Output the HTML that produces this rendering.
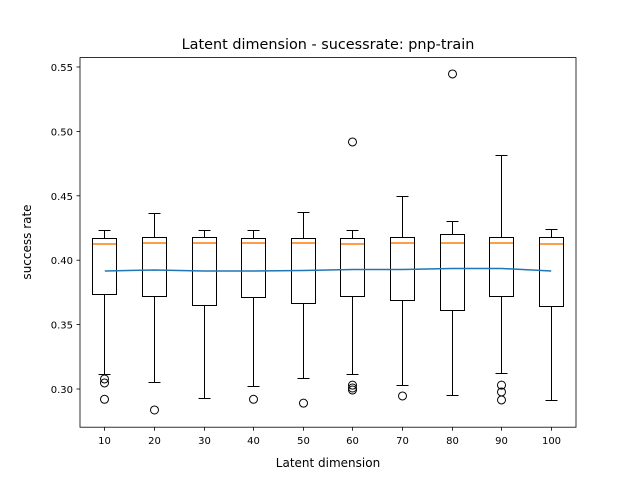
<!DOCTYPE html>
<html><head><meta charset="utf-8"><style>body{margin:0;background:#fff}svg{display:block;font-family:"DejaVu Sans","Liberation Sans",sans-serif}</style></head>
<body>
<svg id="chart" width="640" height="480" xmlns="http://www.w3.org/2000/svg">
<rect width="640" height="480" fill="#fff"/>
<text x="328" y="49" text-anchor="middle" font-size="14.4">Latent dimension - sucessrate: pnp-train</text>
<text x="328" y="467" text-anchor="middle" font-size="12">Latent dimension</text>
<text transform="translate(31,242) rotate(-90)" text-anchor="middle" font-size="12">success rate</text>
<g id="plot"></g>
<rect x="80" y="57.6" width="496" height="369.6" fill="none" stroke="#000" stroke-width="0.8"/>
</svg>
<script>
const categories=[10,20,30,40,50,60,70,80,90,100];
const whiskerHigh=[0.4227,0.4366,0.4227,0.4227,0.4374,0.4227,0.4498,0.4297,0.481,0.4242];
const q3=[0.4165,0.418,0.418,0.417,0.417,0.4165,0.418,0.4196,0.418,0.418];
const medians=[0.4126,0.4134,0.413,0.413,0.413,0.4126,0.413,0.413,0.413,0.4126];
const q1=[0.373,0.372,0.3645,0.3707,0.366,0.372,0.369,0.3606,0.372,0.3637];
const whiskerLow=[0.311,0.305,0.293,0.3023,0.308,0.3116,0.303,0.2946,0.3124,0.2907];
const outliers=[[0.3078,0.3047,0.292],[0.2837],[],[0.292],[0.289],[0.4918,0.303,0.3008,0.2992],[0.2946],[0.5446],[0.303,0.2977,0.2915],[]];
const means=[0.3916,0.3924,0.3916,0.3916,0.392,0.3928,0.3928,0.3936,0.3936,0.3916];
const yTicks=[0.30,0.35,0.40,0.45,0.50,0.55];
const NS="http://www.w3.org/2000/svg";
const g=document.getElementById('plot');
const X=i=>80+(i+0.5)*49.6;
const Y=v=>389-(v-0.30)*1288;
const P=v=>Math.round(v-0.5)+0.5;
function mk(t,a){const e=document.createElementNS(NS,t);for(const k in a)e.setAttribute(k,a[k]);g.appendChild(e);return e;}
yTicks.forEach(v=>{
 const l=mk('line',{x1:76.5,x2:80,y1:Y(v),y2:Y(v),stroke:'#000','stroke-width':0.8});
 
 
 const t=mk('text',{x:73,y:Y(v)+4,'text-anchor':'end','font-size':10});
 
 
 t.textContent=v.toFixed(2);
});
categories.forEach((c,i)=>{
 const x=P(X(i));
 const tk=mk('line',{x1:x,x2:x,y1:427.2,y2:430.7,stroke:'#000','stroke-width':0.8});
 
 
 const t=mk('text',{x:x,y:444,'text-anchor':'middle','font-size':10});
 
 
 t.textContent=c;
 const w=12;
 [[P(Y(q3[i])),P(Y(whiskerHigh[i]))],[P(Y(q1[i])),P(Y(whiskerLow[i]))]].forEach(p=>{
  const wl=mk('line',{x1:x,x2:x,y1:p[0],y2:p[1],stroke:'#000','stroke-width':1});
  
  
  const cap=mk('line',{x1:x-w/2,x2:x+w/2,y1:p[1],y2:p[1],stroke:'#000','stroke-width':1});
  
  
 });
 const b=mk('rect',{x:x-w,y:P(Y(q3[i])),width:2*w,height:P(Y(q1[i]))-P(Y(q3[i])),fill:'none',stroke:'#000','stroke-width':1});
 
 
 const m=mk('line',{x1:x-w+0.5,x2:x+w-0.5,y1:Math.round(Y(medians[i])),y2:Math.round(Y(medians[i])),stroke:'#ff7f0e','stroke-width':1.5});
 
 
 outliers[i].forEach(v=>{
  const o=mk('circle',{cx:x,cy:Y(v),r:4,fill:'none',stroke:'#000','stroke-width':1});
  
  
 });
});
const ml=mk('polyline',{points:means.map((v,i)=>X(i)+','+Y(v)).join(' '),fill:'none',stroke:'#1f77b4','stroke-width':1.5});


</script>
</body></html>
